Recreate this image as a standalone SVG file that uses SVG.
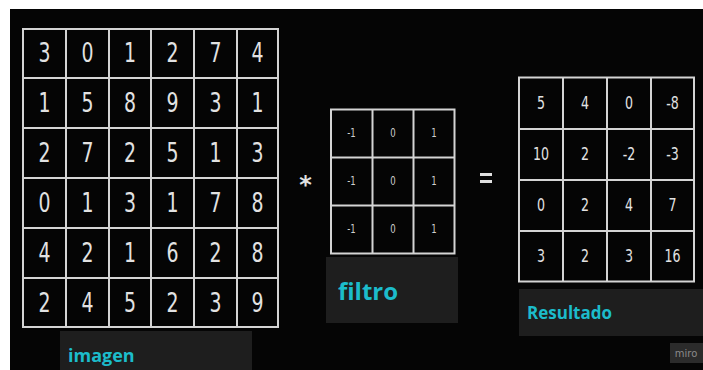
<svg xmlns="http://www.w3.org/2000/svg" width="703" height="370" viewBox="0 0 703 370">
<style>
.grid{fill:none;stroke:#d4d4d4;stroke-width:2}
.big{font-family:"DejaVu Sans Condensed","DejaVu Sans",sans-serif;font-size:21px;fill:#e2e2e2;text-anchor:middle}
.sm{font-family:"DejaVu Sans Condensed","DejaVu Sans",sans-serif;font-size:9.5px;fill:#d0d0d0;text-anchor:middle}
.md{font-family:"DejaVu Sans Condensed","DejaVu Sans",sans-serif;font-size:14px;fill:#e2e2e2;text-anchor:middle}
.lbl{font-family:"Open Sans","Noto Sans",sans-serif;font-weight:bold;fill:#1cbccb}
.box{fill:#1e1e1e}
</style>
<rect x="0" y="0" width="703" height="370" fill="#ffffff"/>
<rect x="10" y="9" width="693" height="361" fill="#050505"/>

<g id="imagen">
<path class="grid" d="M23,29H278V327H23Z M66,29V327 M109,29V327 M151,29V327 M194,29V327 M237,29V327 M23,78H278 M23,128H278 M23,178H278 M23,228H278 M23,278H278"/>
<g class="big">
<text transform="translate(44.5,62) scale(1,1.25)">3</text><text transform="translate(87.5,62) scale(1,1.25)">0</text><text transform="translate(130,62) scale(1,1.25)">1</text><text transform="translate(172.5,62) scale(1,1.25)">2</text><text transform="translate(215.5,62) scale(1,1.25)">7</text><text transform="translate(257.5,62) scale(1,1.25)">4</text>
<text transform="translate(44.5,112) scale(1,1.25)">1</text><text transform="translate(87.5,112) scale(1,1.25)">5</text><text transform="translate(130,112) scale(1,1.25)">8</text><text transform="translate(172.5,112) scale(1,1.25)">9</text><text transform="translate(215.5,112) scale(1,1.25)">3</text><text transform="translate(257.5,112) scale(1,1.25)">1</text>
<text transform="translate(44.5,162) scale(1,1.25)">2</text><text transform="translate(87.5,162) scale(1,1.25)">7</text><text transform="translate(130,162) scale(1,1.25)">2</text><text transform="translate(172.5,162) scale(1,1.25)">5</text><text transform="translate(215.5,162) scale(1,1.25)">1</text><text transform="translate(257.5,162) scale(1,1.25)">3</text>
<text transform="translate(44.5,212) scale(1,1.25)">0</text><text transform="translate(87.5,212) scale(1,1.25)">1</text><text transform="translate(130,212) scale(1,1.25)">3</text><text transform="translate(172.5,212) scale(1,1.25)">1</text><text transform="translate(215.5,212) scale(1,1.25)">7</text><text transform="translate(257.5,212) scale(1,1.25)">8</text>
<text transform="translate(44.5,262) scale(1,1.25)">4</text><text transform="translate(87.5,262) scale(1,1.25)">2</text><text transform="translate(130,262) scale(1,1.25)">1</text><text transform="translate(172.5,262) scale(1,1.25)">6</text><text transform="translate(215.5,262) scale(1,1.25)">2</text><text transform="translate(257.5,262) scale(1,1.25)">8</text>
<text transform="translate(44.5,311.5) scale(1,1.25)">2</text><text transform="translate(87.5,311.5) scale(1,1.25)">4</text><text transform="translate(130,311.5) scale(1,1.25)">5</text><text transform="translate(172.5,311.5) scale(1,1.25)">2</text><text transform="translate(215.5,311.5) scale(1,1.25)">3</text><text transform="translate(257.5,311.5) scale(1,1.25)">9</text>
</g>
<rect class="box" x="60" y="331" width="192" height="39"/>
<text class="lbl" x="68" y="362" font-size="18">imagen</text>
</g>

<g id="op-mult"><text x="305.5" y="193" font-family="DejaVu Sans, sans-serif" font-weight="bold" font-size="24" fill="#e0e0e0" text-anchor="middle">*</text></g>

<g id="filtro">
<path class="grid" d="M331,109.5H454.5V253.5H331Z M372.5,109.5V253.5 M413.5,109.5V253.5 M331,157.5H454.5 M331,205.5H454.5"/>
<g class="sm">
<text transform="translate(351.5,136.5) scale(1,1.2)">-1</text><text transform="translate(393,136.5) scale(1,1.2)">0</text><text transform="translate(434,136.5) scale(1,1.2)">1</text>
<text transform="translate(351.5,184.5) scale(1,1.2)">-1</text><text transform="translate(393,184.5) scale(1,1.2)">0</text><text transform="translate(434,184.5) scale(1,1.2)">1</text>
<text transform="translate(351.5,232.5) scale(1,1.2)">-1</text><text transform="translate(393,232.5) scale(1,1.2)">0</text><text transform="translate(434,232.5) scale(1,1.2)">1</text>
</g>
<rect class="box" x="326" y="257" width="132" height="66"/>
<text class="lbl" x="338" y="300" font-size="24">filtro</text>
</g>

<g id="op-eq"><path d="M480,174.5H492 M480,181.5H492" stroke="#e0e0e0" stroke-width="3"/></g>

<g id="resultado">
<path class="grid" d="M519,77.5H694V281.5H519Z M563,77.5V281.5 M607,77.5V281.5 M651,77.5V281.5 M519,129H694 M519,180H694 M519,231H694"/>
<g class="md">
<text transform="translate(541,108.5) scale(1,1.2)">5</text><text transform="translate(585,108.5) scale(1,1.2)">4</text><text transform="translate(629,108.5) scale(1,1.2)">0</text><text transform="translate(672.5,108.5) scale(1,1.2)">-8</text>
<text transform="translate(541,160) scale(1,1.2)">10</text><text transform="translate(585,160) scale(1,1.2)">2</text><text transform="translate(629,160) scale(1,1.2)">-2</text><text transform="translate(672.5,160) scale(1,1.2)">-3</text>
<text transform="translate(541,211) scale(1,1.2)">0</text><text transform="translate(585,211) scale(1,1.2)">2</text><text transform="translate(629,211) scale(1,1.2)">4</text><text transform="translate(672.5,211) scale(1,1.2)">7</text>
<text transform="translate(541,262) scale(1,1.2)">3</text><text transform="translate(585,262) scale(1,1.2)">2</text><text transform="translate(629,262) scale(1,1.2)">3</text><text transform="translate(672.5,262) scale(1,1.2)">16</text>
</g>
<rect class="box" x="519" y="289" width="184" height="47"/>
<text class="lbl" x="527" y="319" font-size="17">Resultado</text>
</g>

<g id="miro">
<rect x="670" y="343" width="33" height="20" fill="#2b2b2b"/>
<text x="686" y="357" font-family="DejaVu Sans, sans-serif" font-size="10" fill="#8a8a8a" text-anchor="middle">miro</text>
</g>
</svg>
